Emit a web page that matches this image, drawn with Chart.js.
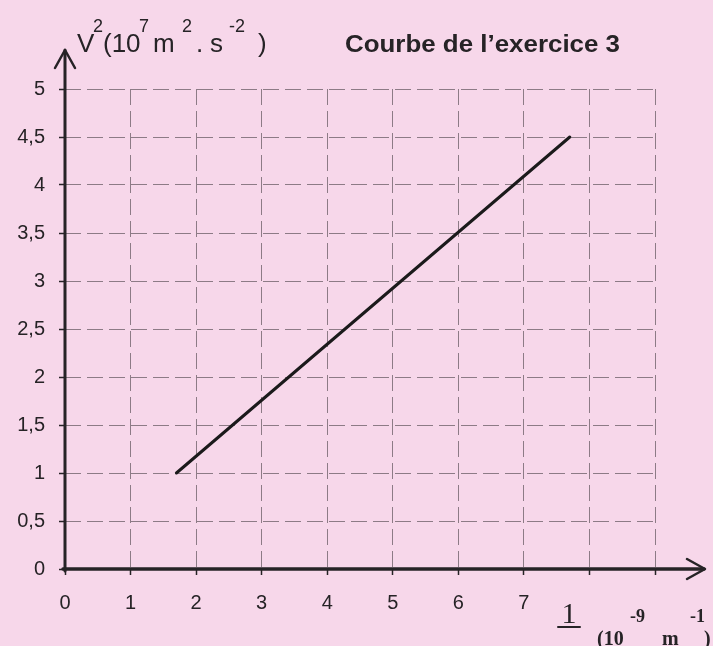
<!DOCTYPE html>
<html>
<head>
<meta charset="utf-8">
<script src="https://cdn.jsdelivr.net/npm/chart.js@4/dist/chart.umd.min.js"></script>
<style>
  html, body { margin: 0; padding: 0; background: #f7d7ea; }
  #wrap { width: 713px; height: 646px; }
</style>
</head>
<body>
<div id="wrap"><canvas id="curve" width="713" height="646"></canvas></div>
<script>
// ==== Data ====
const lambdaInv = [1.7, 7.7];        // 1/λ (10^-9 m^-1)
const vSquared = [1, 4.5];           // V² (10^7 m².s^-2)
const xTickLabels = ["0", "1", "2", "3", "4", "5", "6", "7", "", ""];
const yTickLabels = ["0", "0,5", "1", "1,5", "2", "2,5", "3", "3,5", "4", "4,5", "5"];

const ink = "#262326";
const gridGrey = "rgba(105,92,100,0.75)";

// ==== Axes with arrows + labels ====
const axisPlugin = {
  id: "axisArrows",
  afterDraw(chart) {
    const c = chart.ctx;
    const xs = chart.scales.x, ys = chart.scales.y;
    const x0 = xs.getPixelForValue(0);
    const y0 = ys.getPixelForValue(0);

    c.save();
    c.strokeStyle = ink;
    c.lineCap = "round";
    c.lineJoin = "round";

    // y axis
    c.lineWidth = 3;
    c.beginPath();
    c.moveTo(x0, y0 + 2);
    c.lineTo(x0, 50);
    c.stroke();
    c.lineWidth = 2.5;
    c.beginPath();
    c.moveTo(x0 - 10, 68);
    c.lineTo(x0, 50);
    c.lineTo(x0 + 10, 68);
    c.stroke();

    // x axis
    c.lineWidth = 3.5;
    c.beginPath();
    c.moveTo(x0 - 2, y0);
    c.lineTo(704, y0);
    c.stroke();
    c.lineWidth = 2.5;
    c.beginPath();
    c.moveTo(687, y0 - 10);
    c.lineTo(705, y0);
    c.lineTo(687, y0 + 10);
    c.stroke();

    // y axis title with superscripts
    c.fillStyle = ink;
    c.textBaseline = "alphabetic";
    const big = "26px 'Liberation Sans', Arial, sans-serif";
    const sup = "18px 'Liberation Sans', Arial, sans-serif";
    const parts = [
      ["V", 77, 52, big], ["2", 93, 32, sup], ["(10", 103, 52, big],
      ["7", 139, 32, sup], ["m", 153, 52, big], ["2", 182, 32, sup],
      [".", 196, 52, big], ["s", 210, 52, big], ["-2", 229, 32, sup],
      [")", 258, 52, big]
    ];
    parts.forEach(([t, x, y, f]) => { c.font = f; c.fillText(t, x, y); });

    // title, stretched to the scan's width
    c.font = "bold 24px 'Liberation Sans', Arial, sans-serif";
    const title = "Courbe de l\u2019exercice 3";
    const w = c.measureText(title).width;
    c.save();
    c.translate(345, 52);
    c.scale(275 / w, 1);
    c.fillText(title, 0, 0);
    c.restore();

    // x axis label: 1/λ (10^-9 m^-1), cut by the page edge
    c.font = "30px 'Liberation Serif', 'Times New Roman', serif";
    c.textAlign = "center";
    c.fillText("1", 569, 623);
    c.textAlign = "left";
    c.lineWidth = 2;
    c.beginPath();
    c.moveTo(558, 627);
    c.lineTo(580, 627);
    c.stroke();
    c.font = "bold 20px 'Liberation Serif', 'Times New Roman', serif";
    c.fillText("(10", 597, 645);
    c.fillText("m", 662, 645);
    c.fillText(")", 704, 645);
    c.font = "bold 18px 'Liberation Serif', 'Times New Roman', serif";
    c.fillText("-9", 630, 622);
    c.fillText("-1", 690, 622);
    c.restore();
  }
};

// ==== Chart ====
const ctx = document.getElementById("curve").getContext("2d");

new Chart(ctx, {
  type: "scatter",
  data: {
    datasets: [{
      data: lambdaInv.map((x, i) => ({ x: x, y: vSquared[i] })),
      showLine: true,
      borderColor: "#1b1a1b",
      borderWidth: 3,
      pointRadius: 0,
      borderCapStyle: "round"
    }]
  },
  options: {
    responsive: false,
    animation: false,
    layout: { padding: { top: 89, right: 58, left: 0, bottom: 0 } },
    plugins: { legend: { display: false }, tooltip: { enabled: false } },
    scales: {
      x: {
        type: "linear",
        min: 0,
        max: 9,
        afterFit(scale) { scale.height = 77; },
        border: { display: false, dash: [16, 6] },
        grid: {
          color: gridGrey,
          lineWidth: 1,
          tickLength: 6,
          tickColor: ink,
          tickWidth: 1.5,
          tickBorderDash: []
        },
        ticks: {
          stepSize: 1,
          padding: 16,
          color: ink,
          font: { family: "'Liberation Sans', Arial, sans-serif", size: 20 },
          callback: (v) => xTickLabels[v] ?? ""
        }
      },
      y: {
        type: "linear",
        min: 0,
        max: 5,
        afterFit(scale) { scale.width = 65; },
        border: { display: false, dash: [16, 6] },
        grid: {
          color: gridGrey,
          lineWidth: 1,
          tickLength: 6,
          tickColor: ink,
          tickWidth: 1.5,
          tickBorderDash: []
        },
        ticks: {
          stepSize: 0.5,
          padding: 14,
          color: ink,
          font: { family: "'Liberation Sans', Arial, sans-serif", size: 20 },
          callback: (v) => yTickLabels[Math.round(v * 2)] ?? ""
        }
      }
    }
  },
  plugins: [axisPlugin]
});
</script>
</body>
</html>
